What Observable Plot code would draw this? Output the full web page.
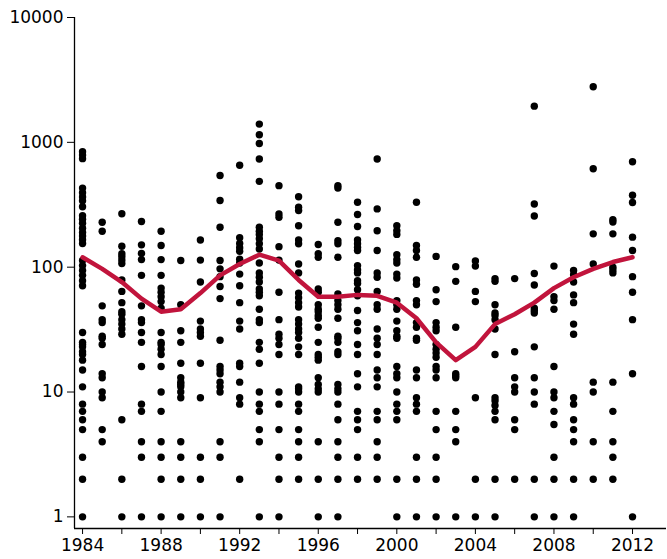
<!DOCTYPE html>
<html>
<head>
<meta charset="utf-8">
<script src="https://cdn.jsdelivr.net/npm/d3@7"></script>
<script src="https://cdn.jsdelivr.net/npm/@observablehq/plot@0.6"></script>
<style>
  html, body { margin: 0; padding: 0; background: #fff; }
  #chart svg { display: block; }
</style>
</head>
<body>
<div id="chart"></div>
<script>
const years = d3.range(1984, 2013);

const obs1984 = [840, 790, 740, 430, 395, 365, 340, 305, 258, 242, 225, 205, 190, 178, 166, 155, 113, 103, 94, 86, 78, 71, 30, 25, 24, 23, 21, 20, 18, 15, 11, 8, 7, 6, 5, 3, 2, 1];
const obs1985 = [229, 194, 49, 38, 36, 28, 27, 24, 14, 13, 10, 9, 5, 4];
const obs1986 = [268, 147, 128, 121, 114, 107, 79, 64, 52, 44, 42, 38, 35, 32, 29, 6, 2, 1];
const obs1987 = [232, 151, 129, 115, 86, 49, 38, 36, 30, 25, 16, 8, 7, 4, 3, 1];
const obs1988 = [194, 149, 115, 86, 68, 63, 58, 53, 47, 30, 25, 24, 22, 20, 16, 10, 7, 4, 3, 2, 1];
const obs1989 = [113, 50, 31, 25, 17, 13, 12, 11.5, 11, 10, 9, 4, 3, 2, 1];
const obs1990 = [165, 114, 76, 37, 32, 30, 28, 17, 9, 3, 2, 1];
const obs1991 = [542, 342, 209, 113, 97, 84, 70, 56, 26, 16, 15, 14, 12, 11, 10, 4, 3, 1];
const obs1992 = [655, 172, 155, 143, 134, 116, 108, 88, 71, 52, 37, 32, 17, 16, 12, 9, 8, 2];
const obs1993 = [1400, 1150, 980, 736, 487, 209, 194, 183, 169, 154, 140, 108, 90, 83, 76, 67, 63, 59, 46, 38, 36, 25, 22, 17, 10, 8, 7, 5, 4, 1];
const obs1994 = [450, 267, 251, 146, 114, 63, 38, 29, 27, 24, 20, 10, 8, 5, 3, 2, 1];
const obs1995 = [367, 302, 284, 215, 165, 154, 106, 90, 62, 57, 52, 48, 38, 35, 32, 30, 27, 23, 20, 11, 10.6, 10, 8, 7, 5, 4, 3, 2];
const obs1996 = [152, 128, 120, 67, 63, 50, 46, 44, 41, 39, 33, 25, 20, 19, 18, 13, 11.5, 10.6, 10, 4, 2, 1];
const obs1997 = [450, 431, 229, 163, 154, 120, 61, 54, 50, 46, 39, 28, 27, 25, 21, 20, 11.5, 10.6, 10, 8, 6, 4, 3, 2, 1];
const obs1998 = [331, 264, 212, 165, 154, 144, 136, 103, 95, 90, 78, 74, 66, 59, 45, 36, 31, 24, 20, 14, 11, 7, 6, 5, 3, 2];
const obs1999 = [736, 293, 196, 136, 90, 83, 64, 50, 46, 32, 27, 24, 20, 15, 13, 11, 7, 6, 4, 3, 2];
const obs2000 = [215, 196, 183, 126, 115, 108, 88, 82, 54, 50, 46, 37, 31, 28, 27, 16, 14, 13, 10, 8, 7, 6, 2, 1];
const obs2001 = [331, 149, 136, 120, 79, 73, 54, 50, 36, 33, 27, 26, 15, 13, 9, 8, 7, 3, 2, 1];
const obs2002 = [122, 66, 53, 36, 33, 31, 24, 22, 20.5, 19, 16, 15, 13, 7, 5, 3, 2, 1];
const obs2003 = [101, 77, 33, 14, 13.5, 13, 7, 5, 4, 1];
const obs2004 = [112, 102, 64, 53, 9, 2, 1];
const obs2005 = [81, 77, 50, 43, 41, 38, 32, 20, 9, 8.5, 7.8, 7, 6, 2, 1];
const obs2006 = [81, 21, 13, 11, 10, 6, 5, 2];
const obs2007 = [1950, 321, 257, 89, 72, 47, 45, 43, 23, 13, 10, 8, 2, 1];
const obs2008 = [102, 58, 54, 46, 16, 10, 9, 7, 5.5, 3, 2, 1];
const obs2009 = [94, 87, 76, 60, 52, 35, 29, 9, 8, 6, 5, 4, 2, 1];
const obs2010 = [2790, 615, 185, 106, 12, 10, 4, 2];
const obs2011 = [240, 230, 185, 100, 95, 90, 12, 7, 4, 3, 2];
const obs2012 = [700, 377, 330, 174, 136, 84, 63, 38, 14, 1];

const observations = [obs1984, obs1985, obs1986, obs1987, obs1988, obs1989, obs1990, obs1991, obs1992, obs1993,
  obs1994, obs1995, obs1996, obs1997, obs1998, obs1999, obs2000, obs2001, obs2002, obs2003,
  obs2004, obs2005, obs2006, obs2007, obs2008, obs2009, obs2010, obs2011, obs2012];

const trend = [120, 97, 76, 56, 44, 46, 62, 86, 106, 126, 113, 79, 58, 58, 60, 59, 52, 39, 25, 18, 23, 35, 42, 52, 68, 83, 97, 110, 120];

const yTicks = [1, 10, 100, 1000, 10000];
const xTicks = d3.range(1984, 2013, 2);
const xLabelYears = [1984, 1988, 1992, 1996, 2000, 2004, 2008, 2012];

const points = years.flatMap((yr, i) => observations[i].map(v => ({year: yr, value: v})));
const trendData = years.map((yr, i) => ({year: yr, value: trend[i]}));

const xDomain = [1983.59, 2013.73];
const yDomain = [0.807, 10000];

const chart = Plot.plot({
  width: 667,
  height: 559,
  marginLeft: 74,
  marginRight: 1,
  marginTop: 17,
  marginBottom: 31,
  style: {fontFamily: "'DejaVu Sans', sans-serif", fontSize: "17px", color: "#000", background: "#fff"},
  x: {domain: xDomain, label: null},
  y: {type: "log", domain: yDomain, label: null},
  marks: [
    Plot.axisY({ticks: yTicks, tickFormat: d => String(d), tickSize: 7, tickPadding: 4, label: null}),
    Plot.axisX({ticks: xTicks, tickFormat: d => xLabelYears.includes(d) ? String(d) : "", tickSize: 6, tickPadding: 4, label: null}),
    Plot.ruleX([xDomain[0]], {stroke: "#000", strokeWidth: 1.3}),
    Plot.ruleY([yDomain[0]], {stroke: "#000", strokeWidth: 1.3}),
    Plot.dot(points, {x: "year", y: "value", r: 3.7, fill: "#000", stroke: "none"}),
    Plot.line(trendData, {x: "year", y: "value", stroke: "#c1143c", strokeWidth: 4.5, strokeLinejoin: "round"})
  ]
});

document.getElementById("chart").appendChild(chart);
</script>
</body>
</html>
